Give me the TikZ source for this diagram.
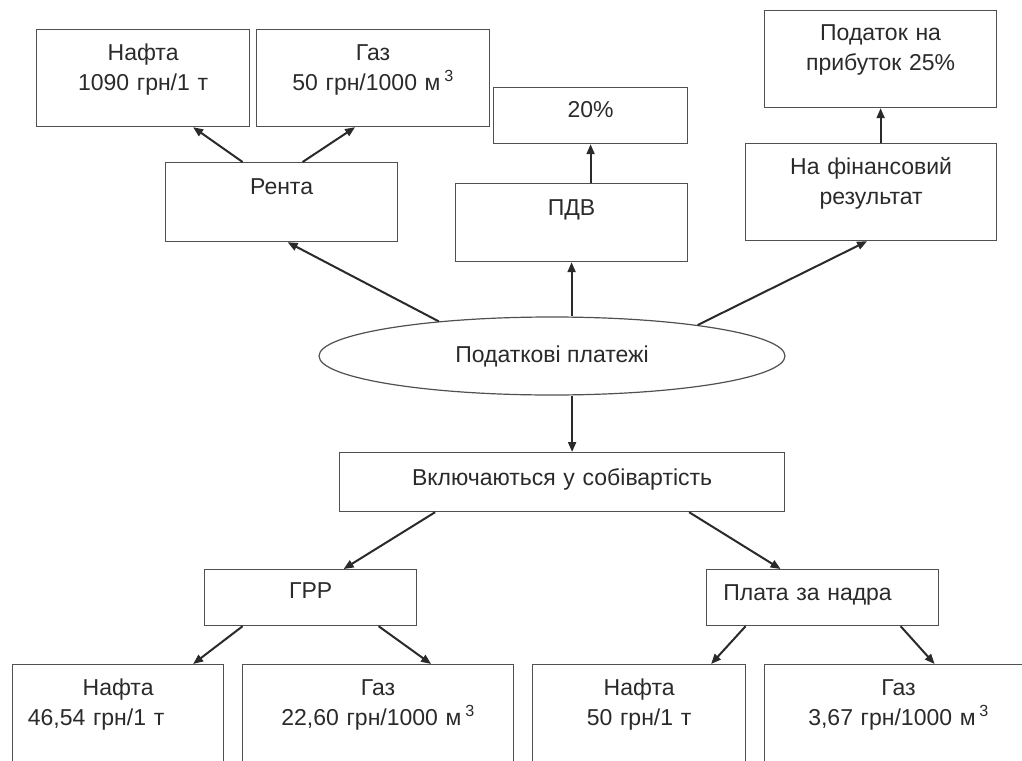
\documentclass[tikz,border=0pt]{standalone}
\usepackage{fontspec}
\setmainfont{Liberation Sans}
\usetikzlibrary{arrows.meta,shapes.geometric}
\definecolor{linegray}{HTML}{505050}
\definecolor{inkgray}{HTML}{2A2A2A}
\tikzset{
  cell/.style={draw=linegray,line width=1.2pt,anchor=north west,inner sep=0pt,
               align=center,font=\fontsize{23}{30}\selectfont,text=inkgray},
  oval/.style={draw=linegray,ellipse,line width=1.2pt,inner sep=0pt,
               font=\fontsize{23}{30}\selectfont,text=inkgray},
  flow/.style={-{Triangle[length=10pt,width=8pt]},line width=2pt,draw=inkgray},
}
\begin{document}
\begin{tikzpicture}[x=1pt,y=-1pt]
\useasboundingbox (0,0) rectangle (1022,760);
\clip (0,0) rectangle (1022,760);
% upper part
\node[cell,text width=213pt,text height=31pt,text depth=66pt] (oil1) at (36,29) {Нафта\\1090 грн/1 т};
\node[cell,text width=233pt,text height=31pt,text depth=66pt] (gas1) at (256,29) {Газ\\50 грн/1000 м\,\textsuperscript{3}};
\node[cell,text width=232pt,text height=32pt,text depth=47pt] (rent) at (165,162) {Рента};
\node[cell,text width=194pt,text height=30pt,text depth=26pt] (rate) at (493,87) {20\%};
\node[cell,text width=232pt,text height=32pt,text depth=46pt] (vat) at (455,183) {ПДВ};
\node[cell,text width=232pt,text height=30pt,text depth=67pt] (profit) at (764,10) {Податок на\\прибуток 25\%};
\node[cell,text width=251pt,text height=31pt,text depth=66pt] (fin) at (745,143) {На фінансовий\\результат};
\node[oval,minimum width=466pt,minimum height=78pt] (tax) at (552,356) {Податкові платежі};
% lower part
\node[cell,text width=445pt,text height=33pt,text depth=26pt] (cost) at (339,452) {Включаються у собівартість};
\node[cell,text width=212pt,text height=29pt,text depth=27pt] (grr) at (204,569) {ГРР};
\node[cell,text width=232pt,text height=31pt,text depth=25pt] (fee) at (706,569) {Плата за надра\kern30pt\null};
\node[cell,text width=211pt,text height=31pt,text depth=120pt] (oil2) at (12,664) {Нафта\\46,54 грн/1 т\kern44pt\null};
\node[cell,text width=271pt,text height=31pt,text depth=120pt] (gas2) at (242,664) {Газ\\22,60 грн/1000 м\,\textsuperscript{3}};
\node[cell,text width=213pt,text height=31pt,text depth=120pt] (oil3) at (532,664) {Нафта\\50 грн/1 т};
\node[cell,text width=268pt,text height=31pt,text depth=120pt] (gas3) at (764,664) {Газ\\3,67 грн/1000 м\,\textsuperscript{3}};
% arrows
\draw[flow] ([xshift=-39pt]rent.north) -- ([xshift=50pt]oil1.south);
\draw[flow] ([xshift=21pt]rent.north) -- ([xshift=-18pt]gas1.south);
\draw[flow] (tax.163) -- ([xshift=6pt]rent.south);
\draw[flow] (vat.south |- tax.north) -- (vat.south);
\draw[flow] (rate.south |- vat.north) -- (rate.south);
\draw[flow] (tax.12.5) -- ([xshift=-4pt]fin.south);
\draw[flow] (profit.south |- fin.north) -- (profit.south);
\draw[flow] ([xshift=10pt]cost.north |- tax.south) -- ([xshift=10pt]cost.north);
\draw[flow] ([xshift=-127pt]cost.south) -- ([xshift=33pt]grr.north);
\draw[flow] ([xshift=127pt]cost.south) -- ([xshift=-42pt]fee.north);
\draw[flow] ([xshift=-68pt]grr.south) -- ([xshift=75pt]oil2.north);
\draw[flow] ([xshift=68pt]grr.south) -- ([xshift=53pt]gas2.north);
\draw[flow] ([xshift=-77pt]fee.south) -- ([xshift=72pt]oil3.north);
\draw[flow] ([xshift=78pt]fee.south) -- ([xshift=36pt]gas3.north);
\end{tikzpicture}
\end{document}
